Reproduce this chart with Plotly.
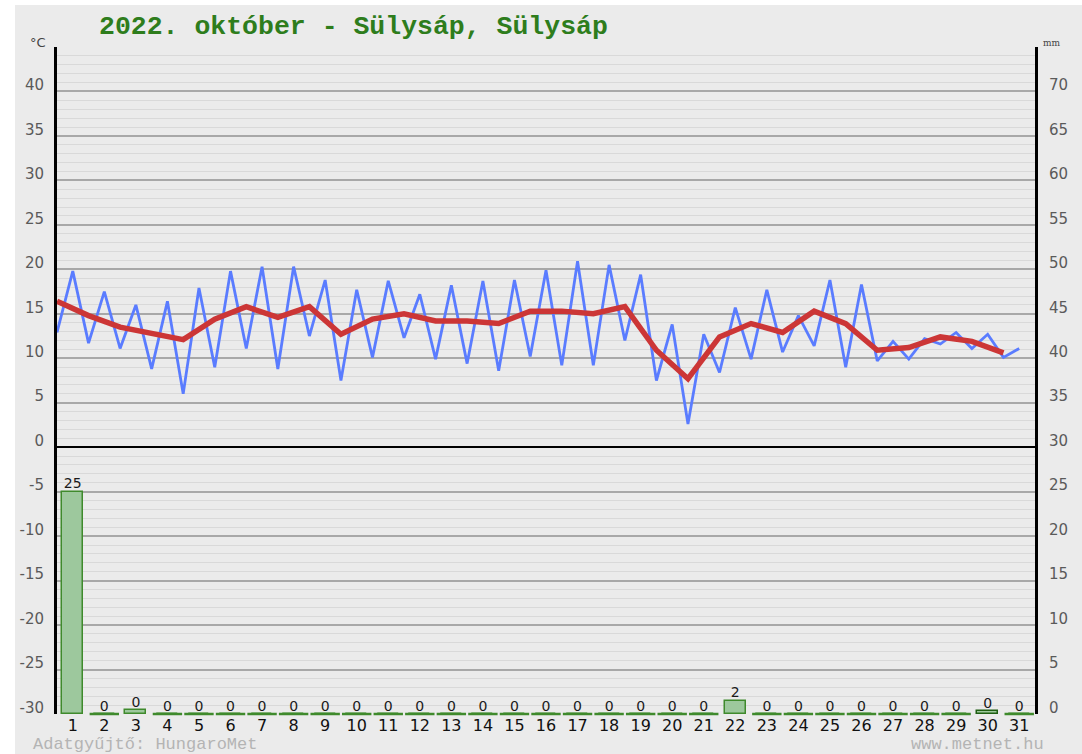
import plotly.graph_objects as go

# ---- data ----
days = list(range(1, 32))
day_labels = [str(d) for d in days]

# temperature readings, two per day (start of day, midday), °C
temp_values = [
    12.9, 19.8, 11.7, 17.5, 11.1, 16.0, 8.8, 16.4, 6.0, 17.9,
    9.0, 19.8, 11.1, 20.3, 8.8, 20.3, 12.5, 18.8, 7.5, 17.7,
    10.1, 18.7, 12.3, 17.2, 9.9, 18.2, 9.4, 18.7, 8.6, 18.8,
    10.2, 19.9, 9.2, 20.9, 9.2, 20.5, 12.0, 19.4, 7.5, 13.8,
    2.6, 12.7, 8.4, 15.7, 9.9, 17.7, 10.7, 14.8, 11.4, 18.8,
    9.0, 18.3, 9.7, 11.9, 9.9, 12.2, 11.6, 12.9, 11.1, 12.7,
    10.1, 11.1,
]
# daily mean temperature, °C
mean_values = [
    16.4, 14.8, 13.5, 12.8, 12.1, 14.4, 15.8, 14.6, 15.8, 12.7,
    14.4, 15.0, 14.2, 14.2, 13.9, 15.3, 15.3, 15.0, 15.8, 10.9,
    7.7, 12.4, 13.9, 12.9, 15.3, 13.9, 10.9, 11.2, 12.4, 11.9,
    10.6,
]
# daily precipitation, mm
precip = [
    25, 0, 0.4, 0, 0, 0, 0, 0, 0, 0,
    0, 0, 0, 0, 0, 0, 0, 0, 0, 0,
    0, 1.5, 0, 0, 0, 0, 0, 0, 0, 0.3,
    0,
]

temp_ticks = [-30, -25, -20, -15, -10, -5, 0, 5, 10, 15, 20, 25, 30, 35, 40, 45]
temp_ticktext = [str(t) for t in temp_ticks[:-1]] + [""]
mm_ticks = [0, 5, 10, 15, 20, 25, 30, 35, 40, 45, 50, 55, 60, 65, 70, 75]
mm_ticktext = [str(t) for t in mm_ticks[:-1]] + [""]

title_text = "2022. október - Sülysáp, Sülysáp"

# ---- derived positions ----
temp_times = []
for d in days:
    temp_times += [d - 0.5, d]
mean_times = [d - 0.5 for d in days]

W, H = 1082, 754
L, R, T, B = 57, 1035, 47, 714
pw, ph = R - L, B - T

def px_x(p):
    return (p - L) / pw

def px_y(p):
    return (B - p) / ph

fig = go.Figure()

fig.add_trace(go.Scatter(
    x=temp_times, y=temp_values, mode="lines",
    line=dict(color="#5a7cff", width=2.8), hoverinfo="skip", showlegend=False,
))
fig.add_trace(go.Scatter(
    x=mean_times, y=mean_values, mode="lines",
    line=dict(color="#cc3636", width=5.5), hoverinfo="skip", showlegend=False,
))

bar_line_colors = ["#1f5f12" if (0 < v < 0.35) else "#3f8a2c" for v in precip]
fig.add_trace(go.Bar(
    x=days, y=precip, yaxis="y2", width=0.66,
    marker=dict(color="#9dc89d", line=dict(color=bar_line_colors, width=1.5)),
    hoverinfo="skip", showlegend=False,
))
zero_days = [d for d, v in zip(days, precip) if v == 0]
fig.add_trace(go.Scatter(
    x=zero_days, y=[0] * len(zero_days), yaxis="y2", mode="markers",
    marker=dict(symbol="line-ew", size=21, line=dict(color="#3f8a2c", width=2.5)),
    hoverinfo="skip", showlegend=False, cliponaxis=False,
))
fig.add_trace(go.Scatter(
    x=days, y=precip, yaxis="y2", mode="text",
    text=[f"{v:.0f}" for v in precip], textposition="top center",
    textfont=dict(family="DejaVu Sans", size=14, color="#1a1a1a"),
    hoverinfo="skip", showlegend=False, cliponaxis=False,
))

annotations = [
    dict(text=title_text, xref="paper", yref="paper", x=px_x(97), y=px_y(27),
         xanchor="left", yanchor="middle", showarrow=False,
         font=dict(family="Liberation Mono", size=26.5, color="#2e7d1c", weight="bold")),
    dict(text="°C", xref="paper", yref="paper", x=px_x(38), y=px_y(42),
         xanchor="center", yanchor="middle", showarrow=False,
         font=dict(family="DejaVu Sans", size=13, color="#444")),
    dict(text="mm", xref="paper", yref="paper", x=px_x(1052), y=px_y(43),
         xanchor="center", yanchor="middle", showarrow=False,
         font=dict(family="DejaVu Serif", size=9, color="#444")),
    dict(text="Adatgyűjtő: HungaroMet", xref="paper", yref="paper", x=px_x(31), y=px_y(744),
         xanchor="left", yanchor="middle", showarrow=False,
         font=dict(family="Liberation Mono", size=17, color="#b4b4b4")),
    dict(text="www.metnet.hu", xref="paper", yref="paper", x=px_x(1046), y=px_y(744),
         xanchor="right", yanchor="middle", showarrow=False,
         font=dict(family="Liberation Mono", size=17, color="#b4b4b4")),
]

shapes = [
    dict(type="rect", xref="paper", yref="paper", x0=px_x(0), x1=px_x(15), y0=px_y(754), y1=px_y(0),
         fillcolor="white", line=dict(width=0), layer="below"),
    dict(type="rect", xref="paper", yref="paper", x0=px_x(0), x1=px_x(1082), y0=px_y(5), y1=px_y(0),
         fillcolor="white", line=dict(width=0), layer="below"),
]

fig.update_layout(
    width=W, height=H,
    margin=dict(l=L, r=W - R, t=T, b=H - B, pad=0),
    paper_bgcolor="#ebebeb", plot_bgcolor="#ebebeb",
    bargap=0, barmode="overlay",
    xaxis=dict(
        range=[0.5, 31.5], tickvals=days, ticktext=day_labels,
        showgrid=False, zeroline=False, showline=False, ticks="",
        tickfont=dict(family="DejaVu Sans", size=16, color="#111"),
        ticklabelstandoff=0,
    ),
    yaxis=dict(
        range=[-30, 45], tickvals=temp_ticks, ticktext=temp_ticktext,
        showgrid=True, gridcolor="#a8a8a8", gridwidth=1.5,
        minor=dict(dtick=1, tick0=0, showgrid=True, gridcolor="#d9d9d9", gridwidth=1),
        zeroline=True, zerolinecolor="#000", zerolinewidth=2,
        showline=True, linecolor="#000", linewidth=3,
        ticks="", ticklabelposition="outside top", ticklabelstandoff=7,
        ticklabelshift=4,
        tickfont=dict(family="DejaVu Sans", size=15, color="#5a5a5a"),
    ),
    yaxis2=dict(
        range=[0, 75], tickvals=mm_ticks, ticktext=mm_ticktext,
        overlaying="y", side="right", showgrid=False, zeroline=False,
        showline=True, linecolor="#000", linewidth=3,
        ticks="", ticklabelposition="outside top", ticklabelstandoff=8,
        ticklabelshift=4,
        tickfont=dict(family="DejaVu Sans", size=15, color="#5a5a5a"),
    ),
    annotations=annotations,
    shapes=shapes,
    showlegend=False,
)

fig.write_html(
    "out.html",
    config={"displayModeBar": False},
    post_script="document.body.style.margin='0';document.body.style.overflow='hidden';",
)
